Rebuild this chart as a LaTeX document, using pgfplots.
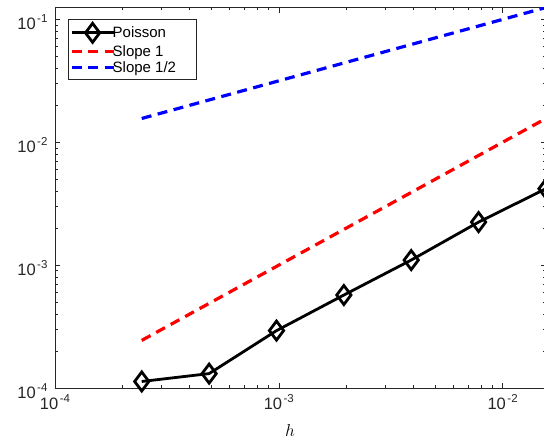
\documentclass[border=0pt]{standalone}
\usepackage{fontspec}
\setmainfont{Liberation Sans}
\usepackage{pgfplots}
\pgfplotsset{compat=1.18}
\newcommand{\tp}[1]{10\kern1.5pt\raisebox{7pt}{\fontsize{11.5}{11.5}\selectfont #1}}
\definecolor{axgray}{gray}{0.15}

\begin{document}
\begin{tikzpicture}
\useasboundingbox (-55pt,-51pt) rectangle (489pt,388pt);
\begin{axis}[
  at={(0,0)}, anchor=south west,
  scale only axis, width=491pt, height=380.5pt,
  xmode=log, ymode=log,
  xmin=1e-4, xmax=0.015625, ymin=1e-4, ymax=0.125,
  xtick={1e-4,1e-3,1e-2}, xticklabels={\tp{-4},\tp{-3},\tp{-2}},
  ytick={1e-4,1e-3,1e-2,1e-1}, yticklabels={\tp{-4},\tp{-3},\tp{-2},\tp{-1}},
  tick label style={font=\fontsize{16.5}{16.5}\selectfont, text=axgray},
  xticklabel style={yshift=-3pt},
  yticklabel style={xshift=-4pt, yshift=-3pt},
  axis line style={axgray, line width=0.6pt},
  tick style={axgray, line width=0.6pt},
  major tick length=5.5pt, minor tick length=3pt,
  tick align=inside,
  xlabel={$h$},
  xlabel style={font=\fontsize{17}{17}\selectfont, at={(axis description cs:0,0)}, anchor=base, xshift=235pt, yshift=-48pt},
  legend cell align=left,
  legend style={at={(0,1)}, anchor=north west, xshift=12.7pt, yshift=-11.5pt,
    draw=axgray, line width=0.6pt, font=\fontsize{15}{15}\selectfont,
    inner xsep=2pt, inner ysep=4pt, row sep=2pt,
    nodes={inner xsep=1.5pt, inner ysep=1pt},
    /tikz/every odd column/.append style={column sep=-4pt}},
  legend image code/.code={
    \draw[mark repeat=2, mark phase=2, #1] plot coordinates {(0pt,0pt) (21pt,0pt) (42pt,0pt)};
  },
]
\addplot[black, line width=2.8pt, mark=diamond, mark size=9.5pt, mark options={solid, line width=2.8pt}] coordinates {
  (0.000244140625, 1.13e-4)
  (0.00048828125,  1.31e-4)
  (0.0009765625,   2.93e-4)
  (0.001953125,    5.71e-4)
  (0.00390625,     1.10e-3)
  (0.0078125,      2.24e-3)
  (0.015625,       4.19e-3)
};
\addlegendentry{Poisson}
\addplot[red, line width=3.2pt, dash pattern=on 10pt off 6.5pt] coordinates {
  (0.000244140625, 0.000244140625)
  (0.015625,       0.015625)
};
\addlegendentry{Slope 1}
\addplot[blue, line width=3.2pt, dash pattern=on 10pt off 6.5pt] coordinates {
  (0.000244140625, 0.015625)
  (0.015625,       0.125)
};
\addlegendentry{Slope 1/2\hspace*{17pt}}
\end{axis}
\end{tikzpicture}
\end{document}
